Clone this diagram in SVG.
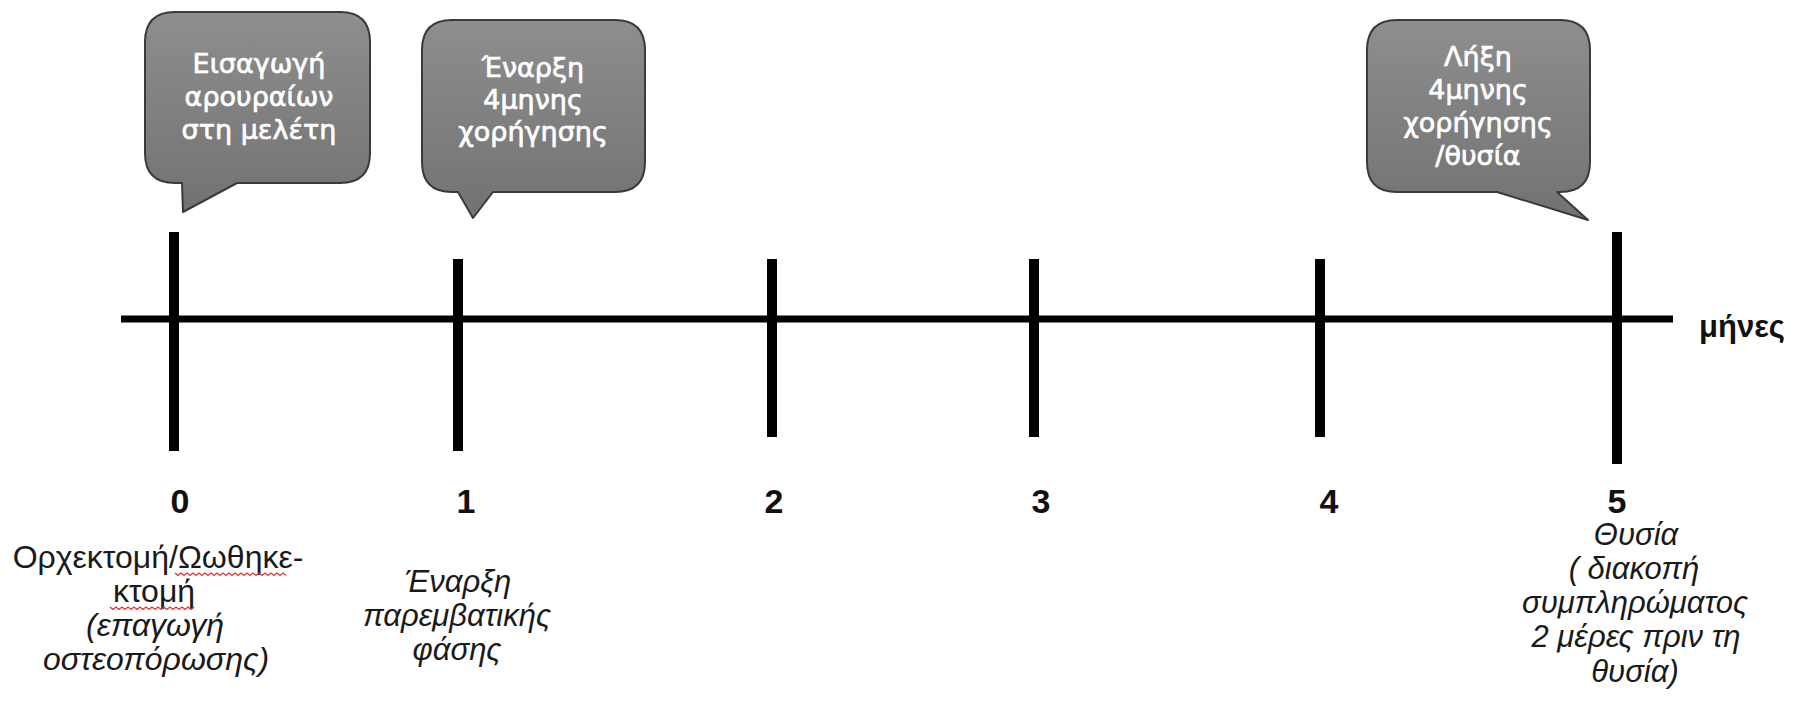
<svg xmlns="http://www.w3.org/2000/svg" width="1795" height="704" viewBox="0 0 1795 704">
<style>
.axis{stroke:#000;stroke-width:7;stroke-linecap:butt}
.tick{stroke:#000;stroke-width:10}
.bubble{fill:url(#g);stroke:#3a3a3a;stroke-width:2;stroke-linejoin:round}
.bt{font-family:"DejaVu Sans",sans-serif;font-size:27px;fill:#fff;stroke:#fff;stroke-width:0.7;text-anchor:middle}
.num{font-family:"Liberation Sans",Arial,sans-serif;font-weight:bold;font-size:34px;fill:#111;text-anchor:middle}
.lbl{font-family:"Liberation Sans",Arial,sans-serif;font-size:31px;fill:#1a1a1a;text-anchor:middle}
.big{font-size:32px}
.it{font-style:italic}
.sq{fill:none;stroke:#e03030;stroke-width:1.3}
</style>
<defs>
<linearGradient id="g" x1="0" y1="0" x2="0" y2="1">
<stop offset="0" stop-color="#8e8e8e"/>
<stop offset="1" stop-color="#727272"/>
</linearGradient>
</defs>
<rect width="1795" height="704" fill="#fff"/>
<g id="connectors">
<line class="axis" x1="121" y1="319" x2="1673" y2="319"/>
<line class="tick" x1="174" y1="232" x2="174" y2="451"/>
<line class="tick" x1="458" y1="259" x2="458" y2="451"/>
<line class="tick" x1="772" y1="259" x2="772" y2="437"/>
<line class="tick" x1="1034" y1="259" x2="1034" y2="437"/>
<line class="tick" x1="1320" y1="259" x2="1320" y2="437"/>
<line class="tick" x1="1617" y1="232" x2="1617" y2="464"/>
</g>
<g id="callout1">
<path class="bubble" d="M175,12 H340 Q370,12 370,42 V153 Q370,183 340,183 H237 L183,212 L182,183 H175 Q145,183 145,153 V42 Q145,12 175,12 Z"/>
<text class="bt" x="259" y="73">Εισαγωγή</text>
<text class="bt" x="259" y="106">αρουραίων</text>
<text class="bt" x="259" y="139">στη μελέτη</text>
</g>
<g id="callout2">
<path class="bubble" d="M452,20 H615 Q645,20 645,50 V162 Q645,192 615,192 H493 L473,218 L458,192 H452 Q422,192 422,162 V50 Q422,20 452,20 Z"/>
<text class="bt" x="533" y="77">Έναρξη</text>
<text class="bt" x="533" y="109">4μηνης</text>
<text class="bt" x="533" y="141">χορήγησης</text>
</g>
<g id="callout3">
<path class="bubble" d="M1397,20 H1560 Q1590,20 1590,50 V162 Q1590,192 1560,192 H1557 L1588,220 L1497,192 H1397 Q1367,192 1367,162 V50 Q1367,20 1397,20 Z"/>
<text class="bt" x="1478" y="66">Λήξη</text>
<text class="bt" x="1478" y="99">4μηνης</text>
<text class="bt" x="1478" y="132">χορήγησης</text>
<text class="bt" x="1478" y="165">/θυσία</text>
</g>
<g id="unit">
<text x="1699" y="337" font-family="Liberation Sans,Arial,sans-serif" font-weight="bold" font-size="31" fill="#111">μήνες</text>
</g>
<g id="m0">
<text class="num" x="180" y="513">0</text>
<text class="lbl big" x="158" y="568">Ορχεκτομή/Ωωθηκε-</text>
<text class="lbl big" x="154" y="602">κτομή</text>
<text class="lbl big it" x="155" y="636">(επαγωγή</text>
<text class="lbl big it" x="156" y="670">οστεοπόρωσης)</text>
<path class="sq" d="M175,573 l3,2.5 l3,-2.5 l3,2.5 l3,-2.5 l3,2.5 l3,-2.5 l3,2.5 l3,-2.5 l3,2.5 l3,-2.5 l3,2.5 l3,-2.5 l3,2.5 l3,-2.5 l3,2.5 l3,-2.5 l3,2.5 l3,-2.5 l3,2.5 l3,-2.5 l3,2.5 l3,-2.5 l3,2.5 l3,-2.5 l3,2.5 l3,-2.5 l3,2.5 l3,-2.5 l3,2.5 l3,-2.5 l3,2.5 l3,-2.5 l3,2.5 l3,-2.5 l3,2.5 l3,-2.5 l3,2.5"/>
<path class="sq" d="M110,607 l3,2.5 l3,-2.5 l3,2.5 l3,-2.5 l3,2.5 l3,-2.5 l3,2.5 l3,-2.5 l3,2.5 l3,-2.5 l3,2.5 l3,-2.5 l3,2.5 l3,-2.5 l3,2.5 l3,-2.5 l3,2.5 l3,-2.5 l3,2.5 l3,-2.5 l3,2.5 l3,-2.5 l3,2.5 l3,-2.5 l3,2.5 l3,-2.5 l3,2.5 l3,-2.5"/>
</g>
<g id="m1">
<text class="num" x="466" y="513">1</text>
<text class="lbl it" x="458" y="592">Έναρξη</text>
<text class="lbl it" x="457" y="626">παρεμβατικής</text>
<text class="lbl it" x="457" y="660">φάσης</text>
</g>
<g id="m2"><text class="num" x="774" y="513">2</text></g>
<g id="m3"><text class="num" x="1041" y="513">3</text></g>
<g id="m4"><text class="num" x="1329" y="513">4</text></g>
<g id="m5">
<text class="num" x="1617" y="513">5</text>
<text class="lbl it" x="1636" y="545">Θυσία</text>
<text class="lbl it" x="1634" y="579">( διακοπή</text>
<text class="lbl it" x="1635" y="613">συμπληρώματος</text>
<text class="lbl it" x="1636" y="647">2 μέρες πριν  τη</text>
<text class="lbl it" x="1635" y="682">θυσία)</text>
</g>
</svg>
